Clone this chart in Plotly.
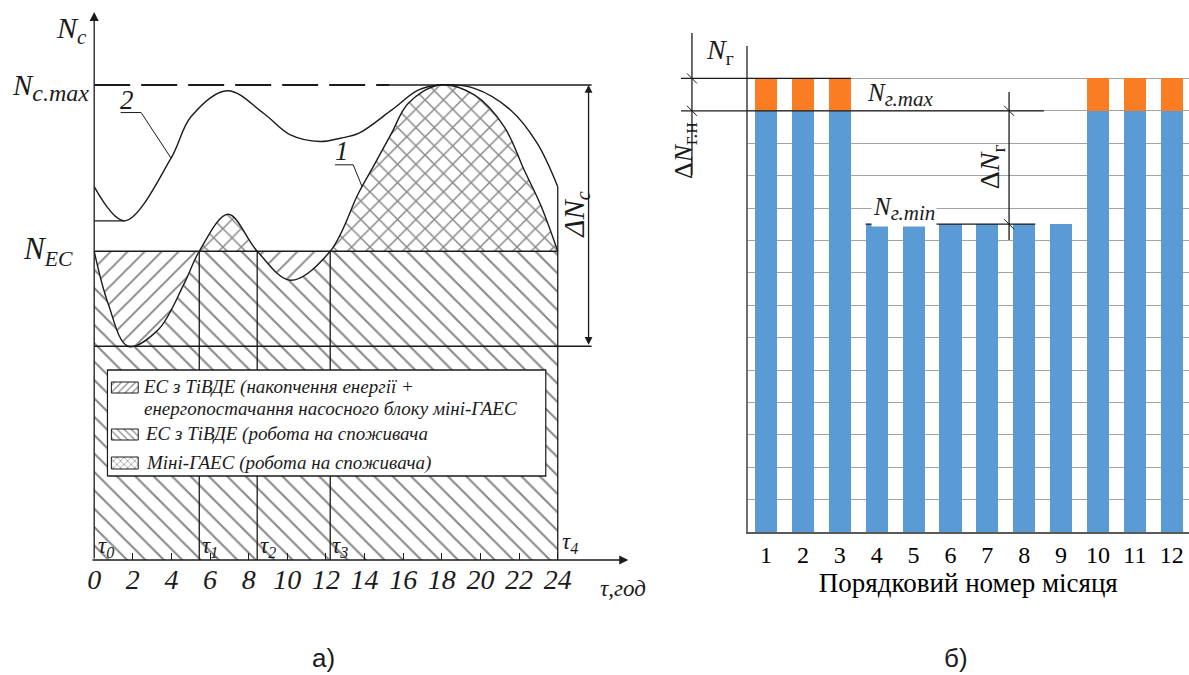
import plotly.graph_objects as go

W, H = 1189, 675

# ---------------- panel а): daily load curves ----------------
hours_curve1 = [0, 0.72, 1.75, 3.3, 4.67, 5.44, 6.93, 8.44, 10.16, 12.22,
                13.68, 14.54, 15.39, 16.25, 17.88, 19.68, 21.23, 22.26, 23.12, 24]
load_curve1 = [65, 54.0, 45.0, 48.4, 58.3, 65, 72.8, 65, 58.9, 65,
               77.2, 83.5, 89.8, 96.1, 100, 97.9, 91.2, 82.1, 74.7, 65]
hours_curve2 = [0, 1.58, 3.98, 5.01, 6.9, 8.78, 10.16, 11.7, 12.74, 13.68,
                15.39, 16.77, 17.88, 19.68, 21.57, 22.94, 24]
load_curve2 = [78.6, 71.4, 84.6, 93.3, 98.8, 94.0, 89.5, 88.1, 88.8, 89.8,
               94.7, 98.9, 100, 99.3, 94.7, 87.7, 78.6]
N_CMAX = 100
N_EC = 65
N_MIN = 45
tau_hours = [0, 5.44, 8.44, 12.22, 24]
tau_names = ["τ<sub>0</sub>", "τ<sub>1</sub>", "τ<sub>2</sub>", "τ<sub>3</sub>", "τ<sub>4</sub>"]
hour_ticks = list(range(0, 25, 2))
legend_labels = [
    "ЕС з ТіВДЕ (накопчення енергії +",
    "енергопостачання насосного блоку міні-ГАЕС",
    "ЕС з ТіВДЕ (робота на споживача",
    "Міні-ГАЕС (робота на споживача)",
]

# ---------------- panel б): monthly capacity ----------------
months = list(range(1, 13))
base_power = [13, 13, 13, 9.5, 9.5, 9.5, 9.5, 9.5, 9.5, 13, 13, 13]
extra_power = [1, 1, 1, 0, 0, 0, 0, 0, 0, 1, 1, 1]
month_labels = [str(m) for m in months]
B_TOP = 15

SERIF = "Liberation Serif, Times New Roman, DejaVu Serif, serif"
SANS = "Liberation Sans, Arial, sans-serif"
INK = "#1b1b1b"
BLUE = "#5B9BD5"
ORANGE = "#FA7D23"
GRID = "#A3A3A3"


def pa_x(px):
    return px / W


def pa_y(py):
    return (H - py) / H


# geometry panel a (pixels)
AX_X0, AX_PXH = 87.7, 19.43
AX_Y0, AX_PYU = 560.0, 4.75
A_RIGHT_PX = 630
A_TOP_PX = 8


def av(v):
    return AX_Y0 - AX_PYU * v


A_XR = [0, (A_RIGHT_PX - AX_X0) / AX_PXH]
A_XD = [AX_X0 / W, A_RIGHT_PX / W]
A_YR = [0, (AX_Y0 - A_TOP_PX) / AX_PYU]
A_YD = [(H - AX_Y0) / H, (H - A_TOP_PX) / H]
SPLIT = (H - av(N_EC)) / H
H_DIM = (588 - AX_X0) / AX_PXH

# geometry panel b (pixels)
B_X0, B_PXM = 745.0, 37.1
B_Y0, B_PYU = 532.0, 32.4


def bx(m):
    return B_X0 + B_PXM * (m - 0.5)


def by(v):
    return B_Y0 - B_PYU * v


def pat(shape, size, sol=0.16):
    return dict(shape=shape, size=size, solidity=sol, fgcolor="#111111", bgcolor="white")


fig = go.Figure()

# --- upper clip subplot: crosshatch (Mini-GAES) where load above N_EC
fig.add_trace(go.Scatter(x=hours_curve1, y=load_curve1, mode="lines",
                         line=dict(width=0, shape="spline"), fill="tozeroy",
                         fillcolor="white", fillpattern=pat("x", 13, 0.22),
                         xaxis="x", yaxis="y", showlegend=False, hoverinfo="skip"))

# --- lower clip subplot: "\" below curve, "/" between curve and N_EC
fig.add_trace(go.Scatter(x=hours_curve1, y=load_curve1, mode="lines",
                         line=dict(width=0, shape="spline"), fill="tozeroy",
                         fillcolor="white", fillpattern=pat("\\", 13),
                         xaxis="x2", yaxis="y2", showlegend=False, hoverinfo="skip"))
fig.add_trace(go.Scatter(x=[0, 24], y=[N_EC, N_EC], mode="lines", line=dict(width=0),
                         xaxis="x2", yaxis="y2", showlegend=False, hoverinfo="skip"))
fig.add_trace(go.Scatter(x=hours_curve1, y=load_curve1, mode="lines",
                         line=dict(width=0, shape="spline"), fill="tonexty",
                         fillcolor="white", fillpattern=pat("/", 12),
                         xaxis="x2", yaxis="y2", showlegend=False, hoverinfo="skip"))


def seg(xs, ys, width=1.3, dash=None, shape="linear"):
    fig.add_trace(go.Scatter(x=xs, y=ys, mode="lines",
                             line=dict(color=INK, width=width, dash=dash, shape=shape),
                             xaxis="x3", yaxis="y3", showlegend=False, hoverinfo="skip"))


# --- main subplot: outlines
seg(hours_curve2, load_curve2, 1.4, shape="spline")
seg([0, hours_curve2[1]], [load_curve2[1], load_curve2[1]])
seg(hours_curve1, load_curve1, 1.4, shape="spline")
seg([0, 24], [N_EC, N_EC])
seg([0, H_DIM], [N_MIN, N_MIN])
seg([0, 15.3], [N_CMAX, N_CMAX], 2, dash="36px,11px")
seg([15.3, H_DIM], [N_CMAX, N_CMAX], 1.4)
for t in tau_hours[1:4]:
    seg([t, t], [0, N_EC])
seg([24, 24], [0, load_curve2[-1]])
# leader lines for curve labels
seg([1.37, 2.43, hours_curve2[2]], [94.2, 94.2, load_curve2[2]], 1)
seg([12.47, 13.41, 13.86], [83.2, 83.2, 78.7], 1)

# --- legend subplot
fig.add_trace(go.Scatter(x=[1, 442, 442, 1, 1], y=[1, 1, 107, 107, 1], mode="lines",
                         fill="toself", fillcolor="white", line=dict(color=INK, width=1.3),
                         xaxis="x4", yaxis="y4", showlegend=False, hoverinfo="skip"))
for (y0, y1), shp in zip([(84, 95), (37, 48), (8, 20)], ["/", "\\", "x"]):
    fig.add_trace(go.Scatter(x=[5, 32, 32, 5, 5], y=[y0, y0, y1, y1, y0], mode="lines",
                             fill="toself", fillcolor="white", fillpattern=pat(shp, 5, 0.25),
                             line=dict(color=INK, width=1),
                             xaxis="x4", yaxis="y4", showlegend=False, hoverinfo="skip"))

# --- panel b bars
fig.add_trace(go.Bar(x=months, y=base_power, marker=dict(color=BLUE, line=dict(width=0)),
                     xaxis="x5", yaxis="y5", showlegend=False, hoverinfo="skip"))
fig.add_trace(go.Bar(x=months, y=extra_power, marker=dict(color=ORANGE, line=dict(width=0)),
                     xaxis="x5", yaxis="y5", showlegend=False, hoverinfo="skip"))

hidden = dict(visible=False, fixedrange=True)
fig.update_layout(
    width=W, height=H, margin=dict(l=0, r=0, t=0, b=0),
    paper_bgcolor="white", plot_bgcolor="rgba(0,0,0,0)",
    font=dict(family=SERIF),
    barmode="stack", bargap=0.4, showlegend=False,
    xaxis=dict(domain=A_XD, range=A_XR, **hidden),
    yaxis=dict(domain=[SPLIT, A_YD[1]], range=[N_EC, A_YR[1]], **hidden),
    xaxis2=dict(domain=A_XD, range=A_XR, anchor="y2", **hidden),
    yaxis2=dict(domain=[A_YD[0], SPLIT], range=[0, N_EC], anchor="x2", **hidden),
    xaxis3=dict(domain=A_XD, range=A_XR, anchor="y3", showgrid=False, zeroline=False,
                showline=False, ticks="inside", ticklen=7, tickwidth=1.2, tickcolor=INK,
                tickvals=hour_ticks,
                tickfont=dict(family=SERIF, size=28, color=INK, style="italic")),
    yaxis3=dict(domain=A_YD, range=A_YR, anchor="x3", **hidden),
    xaxis4=dict(domain=[100 / W, 543 / W], range=[0, 443], anchor="y4", **hidden),
    yaxis4=dict(domain=[(H - 477) / H, (H - 369) / H], range=[0, 108], anchor="x4", **hidden),
    xaxis5=dict(domain=[B_X0 / W, 1], range=[0.5, 0.5 + (W - B_X0) / B_PXM], anchor="y5",
                tickvals=months, ticktext=month_labels, showgrid=False, zeroline=False,
                showline=True, linecolor="#5a5a5a", linewidth=2, ticks="",
                tickfont=dict(family=SERIF, size=24, color="black"),
                title=dict(text="Порядковий номер місяця", standoff=6,
                           font=dict(family=SERIF, size=27, color="black"))),
    yaxis5=dict(domain=[(H - B_Y0) / H, (H - 46) / H], range=[0, B_TOP], anchor="x5",
                dtick=1, showgrid=True, gridcolor=GRID, gridwidth=1.3, zeroline=False,
                showline=True, linecolor="#707070", linewidth=1.5, showticklabels=False,
                ticks=""),
)

ann = []


def txt(text, x, y, size, italic=True, xanchor="center", yanchor="middle", angle=0,
        bg=None, family=SERIF):
    d = dict(text=text, x=pa_x(x), y=pa_y(y), xref="paper", yref="paper", showarrow=False,
             xanchor=xanchor, yanchor=yanchor, textangle=angle,
             font=dict(family=family, size=size, color=INK,
                       style="italic" if italic else "normal"))
    if bg:
        d["bgcolor"] = bg
    ann.append(d)


def arrow(x, y, axp, ayp, side="end", size=1.4):
    ann.append(dict(text="", x=pa_x(x), y=pa_y(y), xref="paper", yref="paper",
                    showarrow=True, ax=axp, ay=ayp, arrowhead=2, arrowsize=size,
                    arrowwidth=1.3, arrowcolor=INK, arrowside=side))


# axis arrows panel a
arrow(625, AX_Y0, -(625 - AX_X0), 0)
arrow(AX_X0, 12, 0, AX_Y0 - 12)
arrow(585, av(N_CMAX), 0, av(N_MIN) - av(N_CMAX), side="end+start", size=1.2)

# labels panel a
txt("N<sub>c</sub>", 82, 30, 30, xanchor="right")
txt("N<sub><span style='font-size:24px'>c.max</span></sub>", 84, 88, 29, xanchor="right")
txt("N<sub>EC</sub>", 68, av(N_EC), 31, xanchor="right")
txt("2", 121, 100, 27)
txt("1", 337, 151, 27)
txt("ΔN<sub>c</sub>", 572, 215, 29, angle=-90)
tau_px = [100, 204, 263, 335, 566]
for name, xp in zip(tau_names, tau_px):
    txt(name, xp, 547 if xp < 500 else 543, 23)
txt("τ,год", 620, 588, 23)

# legend texts
txt(legend_labels[0], 135, 387, 19, xanchor="left")
txt(legend_labels[1], 136, 408, 19, xanchor="left")
txt(legend_labels[2], 137, 434, 19, xanchor="left")
txt(legend_labels[3], 138, 463, 19, xanchor="left")

# panel b labels
txt("<i>N</i><sub>г</sub>", 717, 52, 28, italic=False)
txt("<i>N</i><sub><span style='font-size:21px'><i>г.max</i></span></sub>", 899, 95, 25, italic=False)
txt("<i>N</i><sub><span style='font-size:21px'><i>г.min</i></span></sub>", 902, 209, 25,
    italic=False, bg="white")
txt("Δ<i>N</i><sub>г</sub>", 990, 167, 28, italic=False, angle=-90)
txt("Δ<i>N</i><sub><span style='font-size:21px'>г.н</span></sub>", 682, 150, 26,
    italic=False, angle=-90)

# captions
txt("а)", 318, 658, 26, italic=False, family=SANS)
txt("б)", 955, 658, 26, italic=False, family=SANS)

fig.update_layout(annotations=ann)

# dimension lines panel b (paper coords derived from data levels)
top_level = max(b + e for b, e in zip(base_power, extra_power))
max_level = max(base_power)
min_level = min(base_power)
DIM_X1 = 689
DIM_X2 = 1008
shapes = []


def pline(x0, y0, x1, y1, w=1.3):
    shapes.append(dict(type="line", xref="paper", yref="paper", x0=pa_x(x0), y0=pa_y(y0),
                       x1=pa_x(x1), y1=pa_y(y1), line=dict(color=INK, width=w), layer="above"))


pline(DIM_X1, 33, DIM_X1, 175)
pline(678, by(top_level), bx(3.3), by(top_level))
pline(678, by(max_level), 1043, by(max_level))
pline(DIM_X2, 92, DIM_X2, 240)
pline(bx(3.7), by(min_level), bx(8.3), by(min_level))
for xt, lv in [(DIM_X1, top_level), (DIM_X1, max_level), (DIM_X2, max_level), (DIM_X2, min_level)]:
    yy = by(lv)
    pline(xt - 5, yy - 5, xt + 5, yy + 5, 1)
fig.update_layout(shapes=shapes)

fig.write_html("out.html")
